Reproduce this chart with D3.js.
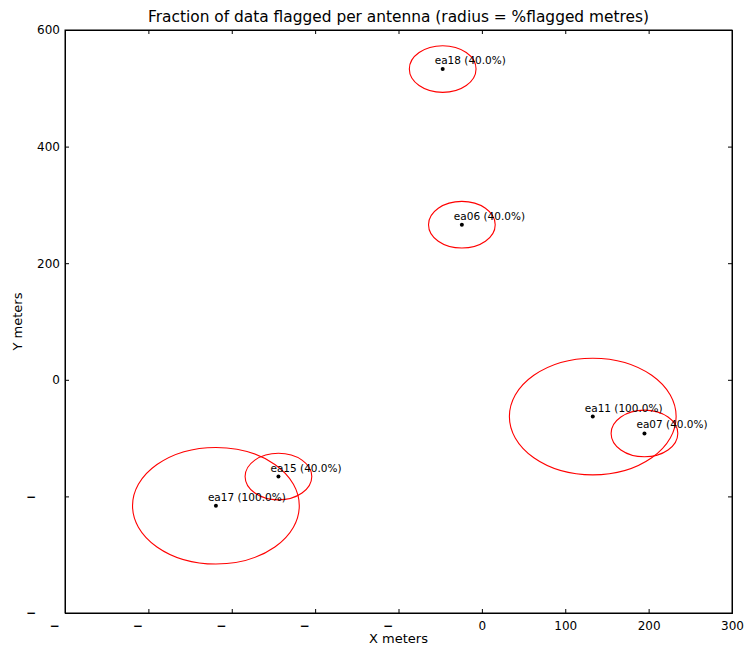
<!DOCTYPE html>
<html>
<head>
<meta charset="utf-8">
<script src="https://cdn.jsdelivr.net/npm/d3@7"></script>
<style>
  body { margin: 0; background: #fff; }
  text { font-family: "DejaVu Sans", sans-serif; fill: #000; }
</style>
</head>
<body>
<div id="chart"></div>
<script>
const antennas = ["ea18", "ea06", "ea11", "ea07", "ea15", "ea17"];
const xPos = [-47, -24, 133, 195, -244, -319];
const yPos = [533, 266, -63, -92, -166, -216];
const flagged = [40, 40, 100, 40, 40, 100];
const xTicks = [-500, -400, -300, -200, -100, 0, 100, 200, 300];
const yTicks = [-400, -200, 0, 200, 400, 600];

const margin = { top: 30, right: 15, bottom: 37, left: 65 };
const width = 747 - margin.left - margin.right;
const height = 650 - margin.top - margin.bottom;

const svg = d3.select("#chart")
  .append("svg")
  .attr("width", 747)
  .attr("height", 650)
  .append("g")
  .attr("transform", `translate(${margin.left}, ${margin.top})`);

const xScale = d3.scaleLinear().domain([-500, 300]).range([0, width]);
const yScale = d3.scaleLinear().domain([-400, 600]).range([height, 0]);

// negative labels only show the minus sign, as in the original render
const fmt = d => d < 0 ? "\u2212" : d;

// bottom axis
const gx = svg.append("g")
  .attr("transform", `translate(0, ${height})`)
  .call(d3.axisBottom(xScale).tickValues(xTicks).tickSize(-4).tickPadding(8).tickFormat(fmt));
gx.selectAll("text")
  .attr("font-size", 12)
  .filter(d => d < 0)
  .attr("dx", -11)
  .attr("font-weight", "bold");

// top axis
svg.append("g")
  .call(d3.axisTop(xScale).tickValues(xTicks).tickSize(-4).tickFormat(""));

// left axis
const gy = svg.append("g")
  .call(d3.axisLeft(yScale).tickValues(yTicks).tickSize(-4).tickPadding(5).tickFormat(fmt));
gy.selectAll("text")
  .attr("font-size", 12)
  .filter(d => d < 0)
  .attr("dx", -24)
  .attr("font-weight", "bold");

// right axis
svg.append("g")
  .attr("transform", `translate(${width}, 0)`)
  .call(d3.axisRight(yScale).tickValues(yTicks).tickSize(-4).tickFormat(""));

svg.selectAll(".domain").attr("stroke", "#000");
svg.selectAll(".tick line").attr("stroke", "#000");

// frame
svg.append("rect")
  .attr("width", width)
  .attr("height", height)
  .attr("fill", "none")
  .attr("stroke", "#000");

const data = antennas.map((name, i) => ({ name, x: xPos[i], y: yPos[i], r: flagged[i] }));

svg.append("g")
  .selectAll("ellipse")
  .data(data)
  .join("ellipse")
  .attr("cx", d => xScale(d.x))
  .attr("cy", d => yScale(d.y))
  .attr("rx", d => xScale(d.r) - xScale(0))
  .attr("ry", d => yScale(0) - yScale(d.r))
  .attr("fill", "none")
  .attr("stroke", "red")
  .attr("stroke-width", 1.1);

svg.append("g")
  .selectAll("circle")
  .data(data)
  .join("circle")
  .attr("cx", d => xScale(d.x))
  .attr("cy", d => yScale(d.y))
  .attr("r", 2)
  .attr("fill", "#000");

svg.append("g")
  .attr("font-size", 10.5)
  .selectAll("text")
  .data(data)
  .join("text")
  .attr("x", d => xScale(d.x) - 8)
  .attr("y", d => yScale(d.y) - 5)
  .text(d => `${d.name} (${d.r.toFixed(1)}%)`);

svg.append("text")
  .attr("x", width / 2)
  .attr("y", -8)
  .attr("text-anchor", "middle")
  .attr("font-size", 15.4)
  .text("Fraction of data flagged per antenna (radius = %flagged metres)");

svg.append("text")
  .attr("x", width / 2)
  .attr("y", height + 30)
  .attr("text-anchor", "middle")
  .attr("font-size", 13)
  .text("X meters");

svg.append("text")
  .attr("transform", "rotate(-90)")
  .attr("x", -height / 2)
  .attr("y", -43)
  .attr("text-anchor", "middle")
  .attr("font-size", 13)
  .text("Y meters");
</script>
</body>
</html>
